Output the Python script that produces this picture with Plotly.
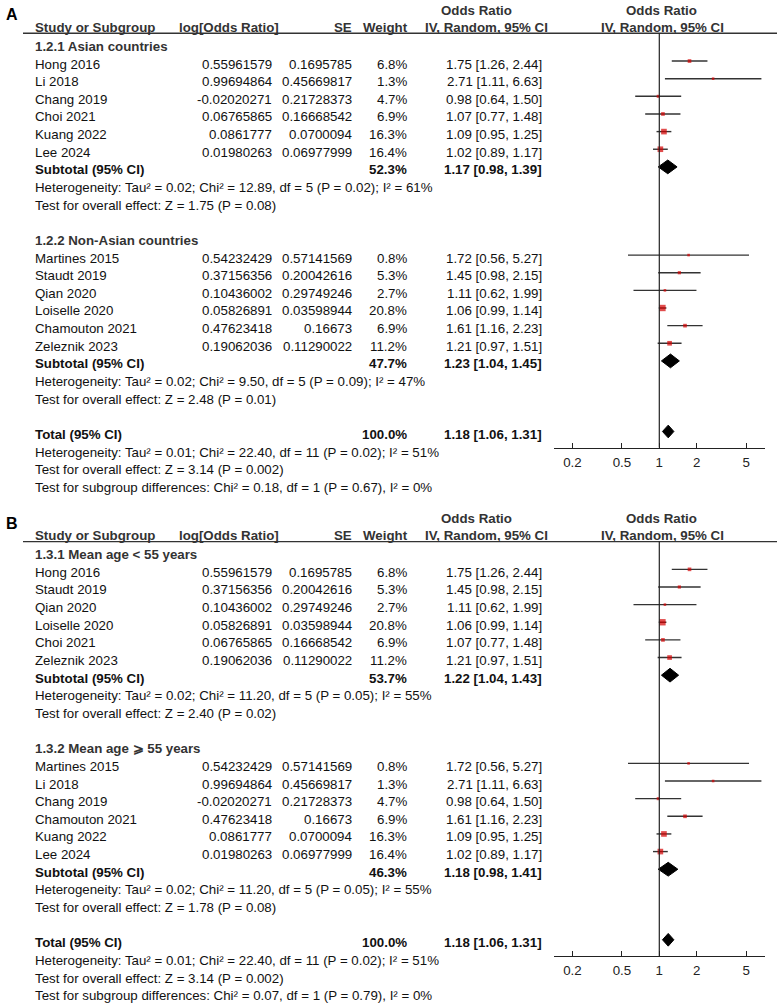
import math
import plotly.graph_objects as go

W, H = 780, 1003

# ---------------- data ----------------
study_names = ["Hong 2016", "Li 2018", "Chang 2019", "Choi 2021", "Kuang 2022", "Lee 2024",
               "Martines 2015", "Staudt 2019", "Qian 2020", "Loiselle 2020", "Chamouton 2021", "Zeleznik 2023"]
log_or = ["0.55961579", "0.99694864", "-0.02020271", "0.06765865", "0.0861777", "0.01980263",
          "0.54232429", "0.37156356", "0.10436002", "0.05826891", "0.47623418", "0.19062036"]
se = ["0.1695785", "0.45669817", "0.21728373", "0.16668542", "0.0700094", "0.06977999",
      "0.57141569", "0.20042616", "0.29749246", "0.03598944", "0.16673", "0.11290022"]
weight = [6.8, 1.3, 4.7, 6.9, 16.3, 16.4, 0.8, 5.3, 2.7, 20.8, 6.9, 11.2]
odds_ratio = [1.75, 2.71, 0.98, 1.07, 1.09, 1.02, 1.72, 1.45, 1.11, 1.06, 1.61, 1.21]
ci_low = [1.26, 1.11, 0.64, 0.77, 0.95, 0.89, 0.56, 0.98, 0.62, 0.99, 1.16, 0.97]
ci_high = [2.44, 6.63, 1.50, 1.48, 1.25, 1.17, 5.27, 2.15, 1.99, 1.14, 2.23, 1.51]

# Panel A: region subgroups
a_group_titles = ["1.2.1 Asian countries", "1.2.2 Non-Asian countries"]
a_group_members = [["Hong 2016", "Li 2018", "Chang 2019", "Choi 2021", "Kuang 2022", "Lee 2024"],
                   ["Martines 2015", "Staudt 2019", "Qian 2020", "Loiselle 2020", "Chamouton 2021", "Zeleznik 2023"]]
a_sub_weight = [52.3, 47.7]
a_sub_or = [1.17, 1.23]
a_sub_low = [0.98, 1.04]
a_sub_high = [1.39, 1.45]
a_sub_het = ["Heterogeneity: Tau² = 0.02; Chi² = 12.89, df = 5 (P = 0.02); I² = 61%",
             "Heterogeneity: Tau² = 0.02; Chi² = 9.50, df = 5 (P = 0.09); I² = 47%"]
a_sub_z = ["Test for overall effect: Z = 1.75 (P = 0.08)",
           "Test for overall effect: Z = 2.48 (P = 0.01)"]
a_subgroup_diff = "Test for subgroup differences: Chi² = 0.18, df = 1 (P = 0.67), I² = 0%"

# Panel B: age subgroups
b_group_titles = ["1.3.1 Mean age &lt; 55 years", "1.3.2 Mean age ⩾ 55 years"]
b_group_members = [["Hong 2016", "Staudt 2019", "Qian 2020", "Loiselle 2020", "Choi 2021", "Zeleznik 2023"],
                   ["Martines 2015", "Li 2018", "Chang 2019", "Chamouton 2021", "Kuang 2022", "Lee 2024"]]
b_sub_weight = [53.7, 46.3]
b_sub_or = [1.22, 1.18]
b_sub_low = [1.04, 0.98]
b_sub_high = [1.43, 1.41]
b_sub_het = ["Heterogeneity: Tau² = 0.02; Chi² = 11.20, df = 5 (P = 0.05); I² = 55%",
             "Heterogeneity: Tau² = 0.02; Chi² = 11.20, df = 5 (P = 0.05); I² = 55%"]
b_sub_z = ["Test for overall effect: Z = 2.40 (P = 0.02)",
           "Test for overall effect: Z = 1.78 (P = 0.08)"]
b_subgroup_diff = "Test for subgroup differences: Chi² = 0.07, df = 1 (P = 0.79), I² = 0%"

# Overall
total_weight = 100.0
total_or, total_low, total_high = 1.18, 1.06, 1.31
total_het = "Heterogeneity: Tau² = 0.01; Chi² = 22.40, df = 11 (P = 0.02); I² = 51%"
total_z = "Test for overall effect: Z = 3.14 (P = 0.002)"

axis_ticks = [0.2, 0.5, 1, 2, 5]
axis_ticktext = ["0.2", "0.5", "1", "2", "5"]

# ---------------- layout constants ----------------
FONT = "Liberation Sans, Arial, Helvetica, sans-serif"
FS = 13.3
BODY = "#111111"
HEAD = "#333333"
RED = "#d40000"
LINE = "#333333"

PANEL_TOP = [0.0, 508.3]
ROW0 = 43.4          # pixel of row 0 (marker centre) within a panel
STEP = 17.64         # row height
TEXT_DY = 3.0        # text centre offset below marker centre
AXIS_PIX = 447.7     # axis line position within panel
HEADLINE_PIX = 33.3  # header underline within panel
X_DOMAIN = [554 / W, 765 / W]
X_RANGE = [-(659.3 - 554) / 124.3, (765 - 659.3) / 124.3]

COL_NAME = 34
COL_LOG = 273
COL_SE = 352.5
COL_W = 408
COL_CI = 542.5

fig = go.Figure()
annotations = []
shapes = []


def txt(xpix, ypix, s, anchor="left", bold=False, size=FS, color=BODY):
    annotations.append(dict(
        x=xpix / W, y=1 - ypix / H, xref="paper", yref="paper",
        text=f"<b>{s}</b>" if bold else s, showarrow=False,
        xanchor=anchor, yanchor="middle", borderpad=0,
        font=dict(family=FONT, size=size, color=color)))


def fmt_ci(o, lo, hi):
    return f"{o:.2f} [{lo:.2f}, {hi:.2f}]"


def add_diamond(xa, ya, est, lo, hi, row, half=0.39):
    fig.add_trace(go.Scatter(x=[lo, est, hi, est, lo], y=[row, row - half, row, row + half, row],
                             xaxis=xa, yaxis=ya, mode="lines", fill="toself", fillcolor="#000",
                             line=dict(color="#000", width=1), hoverinfo="skip"))


def build_panel(p, label, titles, members, sw, so, slo, shi, shet, sz, sdiff):
    top = PANEL_TOP[p]
    xa = "x" if p == 0 else "x2"
    ya = "y" if p == 0 else "y2"

    def rowpix(i):
        return top + ROW0 + i * STEP + TEXT_DY

    # headers
    txt(5, top + 15, label, bold=True, size=16, color="#000")
    txt(476, top + 10, "Odds Ratio", anchor="center", bold=True, color=HEAD)
    txt(661, top + 10, "Odds Ratio", anchor="center", bold=True, color=HEAD)
    hy = top + 27.5
    txt(COL_NAME, hy, "Study or Subgroup", bold=True, color=HEAD)
    txt(178, hy, "log[Odds Ratio]", bold=True, color=HEAD)
    txt(353, hy, "SE", anchor="right", bold=True, color=HEAD)
    txt(408.5, hy, "Weight", anchor="right", bold=True, color=HEAD)
    txt(486, hy, "IV, Random, 95% CI", anchor="center", bold=True, color=HEAD)
    txt(662, hy, "IV, Random, 95% CI", anchor="center", bold=True, color=HEAD)

    headline_row = (HEADLINE_PIX - ROW0) / STEP
    shapes.append(dict(type="line", xref="paper", yref=ya, x0=23 / W, x1=777 / W,
                       y0=headline_row, y1=headline_row, line=dict(color=HEAD, width=1.4)))
    axis_row = (AXIS_PIX - ROW0) / STEP
    shapes.append(dict(type="line", xref=xa, yref=ya, x0=1, x1=1,
                       y0=headline_row, y1=axis_row, line=dict(color="#222", width=1.2)))

    ci_x, ci_y, mk_x, mk_y, mk_s = [], [], [], [], []
    row = 0
    for g in range(2):
        txt(COL_NAME, rowpix(row), titles[g], bold=True, color=HEAD)
        row += 1
        for name in members[g]:
            k = study_names.index(name)
            ypx = rowpix(row)
            txt(COL_NAME, ypx, name)
            txt(COL_LOG, ypx, log_or[k], anchor="right")
            txt(COL_SE, ypx, se[k], anchor="right")
            txt(COL_W, ypx, f"{weight[k]:.1f}%", anchor="right")
            txt(COL_CI, ypx, fmt_ci(odds_ratio[k], ci_low[k], ci_high[k]), anchor="right")
            ci_x += [ci_low[k], ci_high[k], None]
            ci_y += [row, row, None]
            mk_x.append(odds_ratio[k])
            mk_y.append(row)
            mk_s.append(max(2.6, 1.4 * math.sqrt(weight[k])))
            row += 1
        ypx = rowpix(row)
        txt(COL_NAME, ypx, "Subtotal (95% CI)", bold=True)
        txt(COL_W, ypx, f"{sw[g]:.1f}%", anchor="right", bold=True)
        txt(COL_CI, ypx, fmt_ci(so[g], slo[g], shi[g]), anchor="right", bold=True)
        add_diamond(xa, ya, so[g], slo[g], shi[g], row)
        row += 1
        txt(COL_NAME, rowpix(row), shet[g])
        row += 1
        txt(COL_NAME, rowpix(row), sz[g])
        row += 2
    ypx = rowpix(row)
    txt(COL_NAME, ypx, "Total (95% CI)", bold=True)
    txt(COL_W, ypx, f"{total_weight:.1f}%", anchor="right", bold=True)
    txt(COL_CI, ypx, fmt_ci(total_or, total_low, total_high), anchor="right", bold=True)
    add_diamond(xa, ya, total_or, total_low, total_high, row, half=0.36)
    row += 1
    txt(COL_NAME, rowpix(row), total_het)
    row += 1
    txt(COL_NAME, rowpix(row), total_z)
    row += 1
    txt(COL_NAME, rowpix(row), sdiff)

    fig.add_trace(go.Scatter(x=ci_x, y=ci_y, xaxis=xa, yaxis=ya, mode="lines",
                             line=dict(color=LINE, width=1.4), hoverinfo="skip", cliponaxis=False))
    fig.add_trace(go.Scatter(x=mk_x, y=mk_y, xaxis=xa, yaxis=ya, mode="markers",
                             marker=dict(symbol="square", size=mk_s, color=RED, line=dict(width=0)),
                             cliponaxis=False))


build_panel(0, "A", a_group_titles, a_group_members, a_sub_weight, a_sub_or, a_sub_low, a_sub_high,
            a_sub_het, a_sub_z, a_subgroup_diff)
build_panel(1, "B", b_group_titles, b_group_members, b_sub_weight, b_sub_or, b_sub_low, b_sub_high,
            b_sub_het, b_sub_z, b_subgroup_diff)

y_range = [(AXIS_PIX - ROW0) / STEP, (0 - ROW0) / STEP]
xaxis_common = dict(type="log", domain=X_DOMAIN, range=X_RANGE, showgrid=False, zeroline=False,
                    showline=True, linecolor="#222", linewidth=1.2, ticks="inside", ticklen=5,
                    tickwidth=1.2, tickcolor="#222", tickvals=axis_ticks, ticktext=axis_ticktext,
                    ticklabelstandoff=2,
                    tickfont=dict(family=FONT, size=FS, color="#222"), fixedrange=True)
yaxis_common = dict(range=y_range, visible=False, showgrid=False, zeroline=False, fixedrange=True)

fig.update_layout(
    width=W, height=H, margin=dict(l=0, r=0, t=0, b=0),
    paper_bgcolor="white", plot_bgcolor="white", showlegend=False,
    font=dict(family=FONT, size=FS, color=BODY),
    xaxis=dict(anchor="y", **xaxis_common),
    yaxis=dict(anchor="x", domain=[1 - AXIS_PIX / H, 1.0], **yaxis_common),
    xaxis2=dict(anchor="y2", **xaxis_common),
    yaxis2=dict(anchor="x2", domain=[1 - (PANEL_TOP[1] + AXIS_PIX) / H, 1 - PANEL_TOP[1] / H], **yaxis_common),
    annotations=annotations, shapes=shapes,
)

fig.write_html("out.html", config={"displayModeBar": False, "staticPlot": True},
               post_script="document.body.style.margin='0';document.body.style.overflow='hidden';")
